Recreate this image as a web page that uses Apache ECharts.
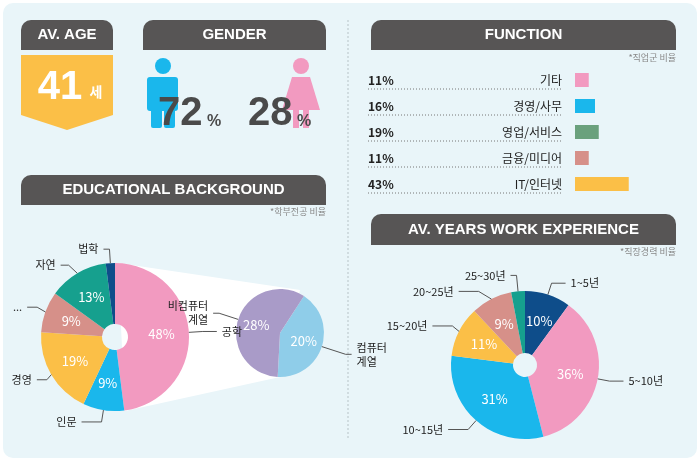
<!DOCTYPE html>
<html><head><meta charset="utf-8">
<script src="https://cdn.jsdelivr.net/npm/echarts@6/dist/echarts.min.js"></script>
<style>html,body{margin:0;padding:0;background:#fff}#c{width:700px;height:461px}</style>
</head><body><div id="c"></div>
<script>
const funcNames = ['기타','경영/사무','영업/서비스','금융/미디어','IT/인터넷'];
const funcValues = [11,16,19,11,43];
const funcColors = ['#f29ac0','#1ab7ec','#6aa17d','#d69089','#fbbf47'];
const eduNames = ['공학','인문','경영','사회과학','자연','법학'];
const eduValues = [48,9,19,9,13,2];
const eduColors = ['#f29ac0','#1ab7ec','#fbbf47','#d69089','#16a08e','#0e4d8a'];
const subNames = ['컴퓨터\n계열','비컴퓨터\n계열'];
const subValues = [20,28];
const subColors = ['#8fcde9','#a99bc8'];
const expNames = ['1~5년','5~10년','10~15년','15~20년','20~25년','25~30년'];
const expValues = [10,36,31,11,9,3];
const expColors = ['#0e4d8a','#f29ac0','#1ab7ec','#fbbf47','#d69089','#16a08e'];
const avgAge = 41, malePct = 72, femalePct = 28;

const KR = '"Noto Sans CJK KR","Noto Sans",sans-serif';
const HF = '"Liberation Sans",Arial,sans-serif';
function header(x,y,w,h,t){return [{type:'rect',shape:{x:x,y:y,width:w,height:h,r:[10,10,0,0]},style:{fill:'#575555'}},
 {type:'text',x:x+w/2,y:y+h/2,style:{text:t,fill:'#fff',font:'bold 15px '+HF,align:'center',verticalAlign:'middle'}}];}
const g = [
 {type:'rect',shape:{x:3,y:3,width:694,height:455,r:10},style:{fill:'#e9f5f9'},z:-10},
 {type:'line',shape:{x1:348,y1:20,x2:348,y2:440},style:{stroke:'#b8c4c8',lineDash:[2,2],lineWidth:1}},
 ...header(21,20,92,30,'AV. AGE'),
 ...header(143,20,183,30,'GENDER'),
 ...header(371,20,305,30,'FUNCTION'),
 ...header(21,175,305,30,'EDUCATIONAL BACKGROUND'),
 ...header(371,214,305,31,'AV. YEARS WORK EXPERIENCE'),
 {type:'polygon',shape:{points:[[21,55],[113,55],[113,115],[67,130],[21,115]]},style:{fill:'#fbbf47'}},
 {type:'text',x:60,y:88,style:{text:String(avgAge),fill:'#fff',font:'bold 40px '+HF,align:'center',verticalAlign:'middle'}},
 {type:'text',x:96,y:92,style:{text:'세',fill:'#fff',font:'bold 14px '+KR,align:'center',verticalAlign:'middle'}},
 // male
 {type:'circle',shape:{cx:163,cy:66,r:8},style:{fill:'#1ab7ec'}},
 {type:'rect',shape:{x:147,y:77,width:31,height:34,r:3},style:{fill:'#1ab7ec'}},
 {type:'rect',shape:{x:151,y:100,width:11,height:28,r:2},style:{fill:'#1ab7ec'}},
 {type:'rect',shape:{x:164,y:100,width:11,height:28,r:2},style:{fill:'#1ab7ec'}},
 // female
 {type:'circle',shape:{cx:301,cy:66,r:8},style:{fill:'#f29ac0'}},
 {type:'polygon',shape:{points:[[292,77],[310,77],[320,110],[282,110]]},style:{fill:'#f29ac0'}},
 {type:'rect',shape:{x:293,y:105,width:6,height:23},style:{fill:'#f29ac0'}},
 {type:'rect',shape:{x:303,y:105,width:6,height:23},style:{fill:'#f29ac0'}},
 {type:'text',x:158,y:114,style:{text:malePct+'',fill:'#4a4a4a',font:'bold 40px '+HF,verticalAlign:'middle'}},
 {type:'text',x:207,y:122,style:{text:'%',fill:'#4a4a4a',font:'bold 16px '+HF,verticalAlign:'middle'}},
 {type:'text',x:248,y:114,style:{text:femalePct+'',fill:'#4a4a4a',font:'bold 40px '+HF,verticalAlign:'middle'}},
 {type:'text',x:297,y:122,style:{text:'%',fill:'#4a4a4a',font:'bold 16px '+HF,verticalAlign:'middle'}},
 {type:'text',x:676,y:58,style:{text:'*직업군 비율',fill:'#888',font:'9px '+KR,align:'right',verticalAlign:'middle'}},
 {type:'text',x:326,y:212,style:{text:'*학부전공 비율',fill:'#888',font:'9px '+KR,align:'right',verticalAlign:'middle'}},
 {type:'text',x:676,y:252,style:{text:'*직장경력 비율',fill:'#888',font:'9px '+KR,align:'right',verticalAlign:'middle'}},
 {type:'polygon',shape:{points:[[118,263],[300,290],[280,377],[125,411]]},style:{fill:'#fff'},z:-1}
];
funcNames.forEach((n,i)=>{g.push({type:'line',shape:{x1:368,y1:89+i*26,x2:562,y2:89+i*26},style:{stroke:'#777',lineDash:[1,2],lineWidth:1}});});

const chart = echarts.init(document.getElementById('c'));
const inLabel = {show:true,position:'inner',formatter:'{c}%',color:'#fff',fontSize:13,fontFamily:KR};
function outer(names,values,center,r,start,lens){
 return {type:'pie',center:center,radius:[0,r],startAngle:start,silent:true,z:3,
  data:names.map((n,i)=>({name:n,value:values[i],labelLine:{length:lens[i][0],length2:lens[i][1]}})),
  itemStyle:{color:'transparent'},
  label:{show:true,position:'outside',formatter:'{b}',color:'#222',fontSize:11,fontFamily:KR,lineHeight:14},
  labelLine:{show:true,lineStyle:{color:'#555',width:1}}};
}
chart.setOption({
 animation:false,
 graphic:{elements:g},
 grid:{left:575,top:67,width:219,height:130},
 xAxis:{type:'value',max:100,show:false},
 yAxis:{type:'category',inverse:true,data:funcNames,axisLine:{show:false},axisTick:{show:false},
  axisLabel:{margin:13,formatter:(v,i)=>'{p|'+funcValues[i]+'%}{n|'+v+'}',
   rich:{p:{width:110,align:'left',fontSize:12,fontWeight:'bold',color:'#222',fontFamily:KR},
         n:{width:84,align:'right',fontSize:12,color:'#222',fontFamily:KR}}}},
 series:[
  {type:'bar',data:funcValues.map((v,i)=>({value:v,itemStyle:{color:funcColors[i]}})),barWidth:14,silent:true},
  {type:'pie',center:[115,337],radius:[13,74],startAngle:90,silent:true,
   data:eduNames.map((n,i)=>({name:n,value:eduValues[i],itemStyle:{color:eduColors[i]}})),label:inLabel,labelLine:{show:false}},
  outer(eduNames,eduValues,[115,337],74,90,[[14,14],[12,20],[10,10],[14,10],[14,8],[14,6]]),
  {type:'pie',center:[280,333],radius:[0,44],startAngle:57,silent:true,
   data:subNames.map((n,i)=>({name:n,value:subValues[i],itemStyle:{color:subColors[i]}})),label:inLabel,labelLine:{show:false}},
  outer(subNames,subValues,[280,333],44,57,[[25,6],[20,6]]),
  {type:'pie',center:[525,365],radius:[12,74],startAngle:90,silent:true,
   data:expNames.map((n,i)=>({name:n,value:expValues[i],itemStyle:{color:expColors[i]}})),label:inLabel,labelLine:{show:false}},
  outer(expNames,expValues,[525,365],74,90,[[12,14],[12,14],[12,20],[12,20],[14,20],[16,6]])
 ]
});
</script></body></html>
